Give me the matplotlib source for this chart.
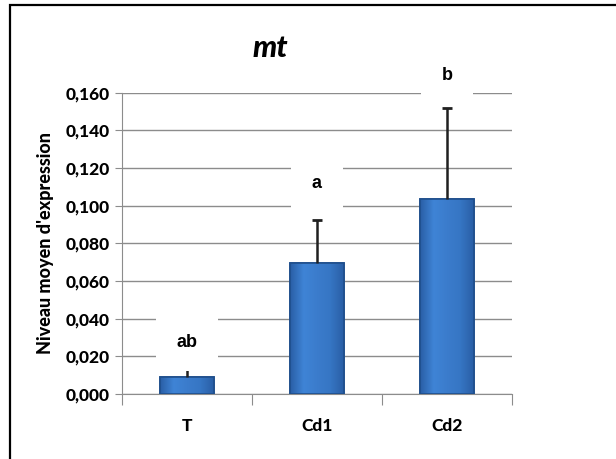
import numpy as np
import matplotlib.pyplot as plt
from matplotlib.patches import Rectangle
from matplotlib.colors import LinearSegmentedColormap
from matplotlib.ticker import FuncFormatter

categories = ["T", "Cd1", "Cd2"]
means = np.array([0.0089, 0.0697, 0.1033])
errors = np.array([0.0051, 0.0226, 0.0486])
letters = ["ab", "a", "b"]
letter_y = [0.0276, 0.112, 0.169]

W, H = 616, 459
FONT = "Lato"
fig = plt.figure(figsize=(W / 100, H / 100), dpi=100)

# chart border (Excel-like frame, right edge cut off)
fig.patches.append(Rectangle((10 / W, -0.05), 1.2, 1 - 5 / H + 0.05,
                             transform=fig.transFigure, fill=False,
                             edgecolor="black", linewidth=1.6))

ax = fig.add_axes([122 / W, 1 - 394 / H, 390 / W, (394 - 92.7) / H])
x = np.arange(len(categories))
ax.set_xlim(-0.5, 2.5)
ax.set_ylim(0, 0.160)

bars = ax.bar(x, means, width=0.41, color="#3b7bcc", edgecolor="#1f4f8c",
              linewidth=1.2, zorder=3)

# horizontal shading like the Excel bevel
grad = LinearSegmentedColormap.from_list(
    "bev", ["#2a5fa6", "#3f84d6", "#3b7ccc", "#3676c4", "#2a5fa6"])
for b in bars:
    x0, w, h = b.get_x(), b.get_width(), b.get_height()
    im = ax.imshow(np.linspace(0, 1, 64).reshape(1, -1), cmap=grad,
                   extent=[x0, x0 + w, 0, h], aspect="auto", zorder=3.1)
    im.set_clip_path(b)

ax.bar(x, means, width=0.41, fill=False, edgecolor="#1f4f8c",
       linewidth=1.2, zorder=3.2)

# upper error bars only
ax.vlines(x, means, means + errors, color="#202020", linewidth=1.8, zorder=4)
ax.plot(x, means + errors, linestyle="none", marker="_", markersize=7,
        markeredgewidth=2, color="#202020", zorder=4)

for xi, lab, ly in zip(x, letters, letter_y):
    ax.text(xi, ly, lab, ha="center", va="center", fontsize=13,
            fontweight="bold", family="Liberation Sans", zorder=5, clip_on=False,
            bbox=dict(boxstyle="square,pad=1.15", facecolor="white",
                      edgecolor="none"))

ax.set_yticks(np.arange(0, 0.161, 0.02))
ax.yaxis.set_major_formatter(FuncFormatter(lambda v, p: f"{v:.3f}".replace(".", ",")))
ax.grid(axis="y", color="#8c8c8c", linewidth=1.0, zorder=0)
ax.set_axisbelow(True)

ax.set_xticks([-0.5, 0.5, 1.5, 2.5], minor=False)
ax.set_xticklabels([])
ax.set_xticks(x, minor=True)
ax.set_xticklabels(categories, minor=True)
ax.tick_params(axis="x", which="major", length=8, color="#8c8c8c", direction="out")
ax.tick_params(axis="x", which="minor", length=0, pad=17)
ax.tick_params(axis="y", length=5, color="#8c8c8c", pad=4)

for lbl in ax.get_yticklabels():
    lbl.set_fontweight(900)
    lbl.set_fontsize(12.5)
    lbl.set_family(FONT)
for lbl in ax.get_xticklabels(minor=True):
    lbl.set_fontweight(900)
    lbl.set_fontsize(12.5)
    lbl.set_family(FONT)

for s in ["top", "right"]:
    ax.spines[s].set_visible(False)
for s in ["left", "bottom"]:
    ax.spines[s].set_color("#8c8c8c")

ax.set_ylabel("Niveau moyen d'expression", fontsize=13, fontweight=900,
              family=FONT, labelpad=8)

fig.text(270 / W, 1 - 48 / H, "mt", ha="center", va="center", fontsize=22,
         fontweight=900, style="italic", family=FONT)

fig.savefig("out.png", dpi=100)
